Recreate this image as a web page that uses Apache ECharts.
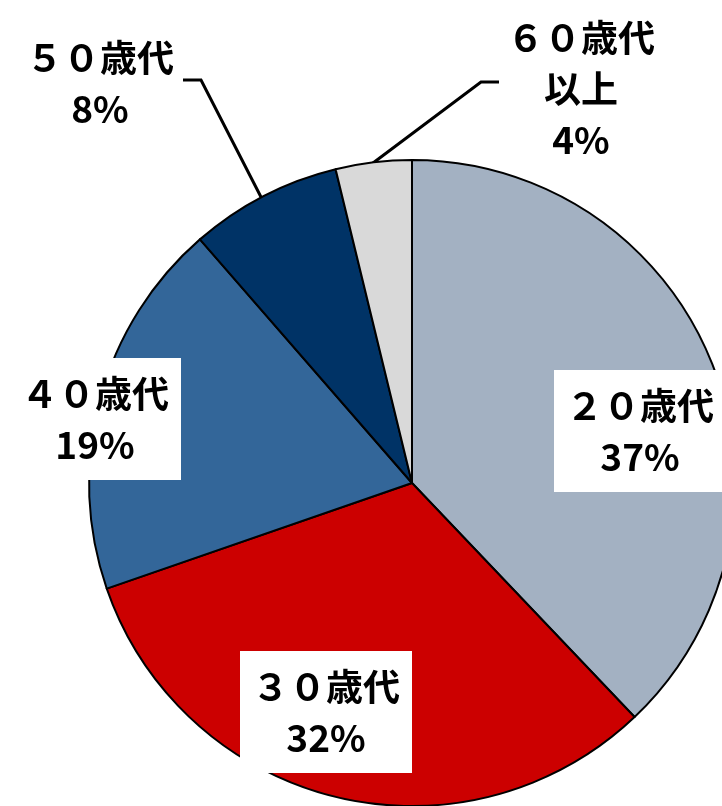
<!DOCTYPE html>
<html>
<head>
<meta charset="utf-8">
<script src="https://cdn.jsdelivr.net/npm/echarts@6/dist/echarts.min.js"></script>
<style>
html,body{margin:0;padding:0;background:#fff;}
#chart{width:722px;height:806px;}
</style>
</head>
<body>
<div id="chart"></div>
<script>
// Data
const categories = ['２０歳代', '３０歳代', '４０歳代', '５０歳代', '６０歳代\n以上'];
const shares = [37.9, 31.8, 18.9, 7.6, 3.8];
const shareLabels = ['37%', '32%', '19%', '8%', '4%'];
const colors = ['#A3B1C2', '#CC0000', '#336699', '#003366', '#D9D9D9'];

// Layout (label anchor centres and leader line bends), kept separate from data
const labelCenters = [[640, 431], [326, 712], [95, 419], [100, 83], [581, 89]];
const leaderLines = [null, null, null,
  [[262, 199], [201, 80], [183, 80]],
  [[373, 163], [481, 82], [499, 82]]];
const boxed = [true, true, true, false, false];

const chart = echarts.init(document.getElementById('chart'), null, {renderer: 'canvas'});

const data = categories.map((name, i) => {
  const item = {
    name: name,
    value: shares[i],
    itemStyle: {color: colors[i]},
    labelLine: {show: !!leaderLines[i]}
  };
  if (boxed[i]) {
    item.label = {
      backgroundColor: '#ffffff',
      width: 162,
      height: 100,
      overflow: 'none',
      padding: [11, 5]
    };
  }
  return item;
});

chart.setOption({
  animation: false,
  backgroundColor: '#ffffff',
  series: [{
    type: 'pie',
    center: [412, 483],
    radius: [0, 323],
    startAngle: 90,
    clockwise: true,
    avoidLabelOverlap: false,
    silent: true,
    data: data,
    itemStyle: {borderColor: '#000000', borderWidth: 2},
    emphasis: {disabled: true},
    label: {
      show: true,
      position: 'outside',
      formatter: function (p) { return p.name + '\n' + shareLabels[p.dataIndex]; },
      fontFamily: '"Noto Sans CJK JP", "Noto Sans", sans-serif',
      fontWeight: 'bold',
      fontSize: 37,
      lineHeight: 51,
      overflow: 'none',
      color: '#000000',
      align: 'center',
      verticalAlign: 'middle'
    },
    labelLine: {
      show: true,
      smooth: false,
      lineStyle: {color: '#000000', width: 3}
    },
    labelLayout: function (params) {
      const i = params.dataIndex;
      const c = labelCenters[i];
      const res = {x: c[0], y: c[1], align: 'center', verticalAlign: 'middle'};
      if (leaderLines[i]) res.labelLinePoints = leaderLines[i];
      return res;
    }
  }]
});
</script>
</body>
</html>
